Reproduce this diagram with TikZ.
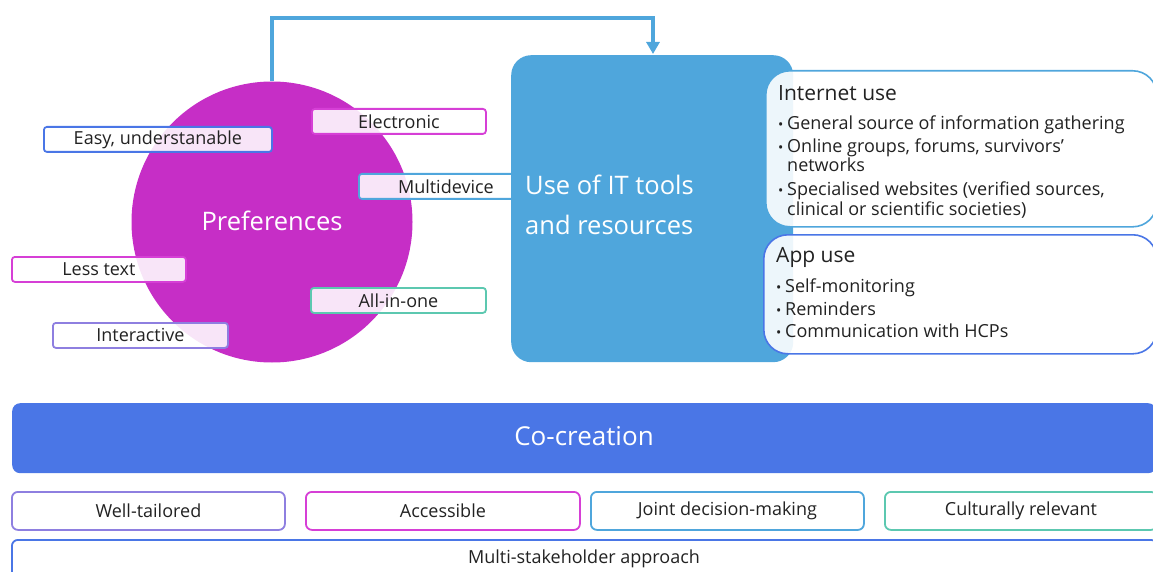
\documentclass[tikz,border=0pt]{standalone}
\usepackage{fontspec}
\setmainfont{Open Sans}
\usetikzlibrary{arrows.meta,calc}
\definecolor{magentaC}{HTML}{C62EC6}
\definecolor{itblue}{HTML}{4FA6DC}
\definecolor{royal}{HTML}{4A76E6}
\definecolor{tagmag}{HTML}{D63FD6}
\definecolor{tagteal}{HTML}{5CC8B0}
\definecolor{tagviolet}{HTML}{8E7FE0}
\definecolor{txt}{HTML}{222222}
\tikzset{
  small/.style={font=\fontsize{18}{20}\selectfont},
  big/.style={font=\fontsize{25.5}{28}\selectfont},
  tag/.style={draw=#1, line width=1.8pt, fill=white, fill opacity=0.88, text opacity=1,
    rounded corners=3pt, minimum width=174pt, minimum height=25pt, inner sep=0pt,
    anchor=north west, text=txt, small},
  basebox/.style={draw=#1, line width=1.8pt, fill=white, rounded corners=6pt,
    minimum height=38pt, inner sep=0pt, anchor=north west, text=txt, small},
  infobox/.style={draw=#1, line width=1.6pt, fill=white, fill opacity=0.9,
    rounded corners=24pt, inner sep=0pt, anchor=north west},
  line/.style={anchor=base west, inner sep=0pt, text=txt, small},
  head/.style={anchor=base west, inner sep=0pt, text=txt, font=\fontsize{21}{24}\selectfont},
  dot/.style={anchor=base west, inner sep=0pt, text=txt, font=\fontsize{14}{16}\selectfont},
}
\begin{document}
\begin{tikzpicture}[x=1pt,y=-1pt]
\useasboundingbox (0,0) rectangle (1153,572);

% preferences circle
\node[circle, fill=magentaC, minimum size=281pt, inner sep=0pt] (pref) at (272,222) {};
\node[text=white, big, anchor=base, inner sep=0pt] (preft) at (272,230) {Preferences};

% preference tags
\node[tag=royal, minimum width=228pt] (easy) at (43,126) {Easy, understanable};
\node[tag=tagmag] (elec) at (311,108) {Electronic};
\node[tag=itblue] (multi) at (358,173) {Multidevice};
\node[tag=tagmag] (less) at (11,256) {Less text};
\node[tag=tagteal, minimum width=175pt] (allin) at (310,287) {All-in-one};
\node[tag=tagviolet, minimum width=175pt] (inter) at (52,322) {Interactive};

% IT tools box
\node[fill=itblue, rounded corners=20pt, minimum width=282pt, minimum height=307pt,
  anchor=north west, inner sep=0pt] (it) at (511,55) {};
\node[text=white, big, anchor=base west, inner sep=0pt] (it1) at (525,194) {Use of IT tools};
\node[text=white, big, anchor=base west, inner sep=0pt] (it2) at (525,234) {and resources};

% connector from preferences to IT tools
\draw[itblue, line width=3.6pt, -{Triangle[length=12pt,width=13pt]}]
  (pref.north) |- (272,18) -| (653,54) coordinate (ittop);

% internet use
\node[infobox=itblue, minimum width=391pt, minimum height=156pt] (inet) at (765,70) {};
\node[head] (inett) at (778,101) {Internet use};
\node[dot] (b1) at (778,130) {•};
\node[line] (l1) at (787,130) {General source of information gathering};
\node[dot] (b2) at (778,153) {•};
\node[line] (l2) at (787,153) {Online groups, forums, survivors'};
\node[line] (l2b) at (787,172) {networks};
\node[dot] (b3) at (778,196) {•};
\node[line] (l3) at (787,196) {Specialised websites (verified sources,};
\node[line] (l3b) at (787,215) {clinical or scientific societies)};

% app use
\node[infobox=royal, minimum width=393pt, minimum height=119pt] (app) at (763,234) {};
\node[head] (appt) at (776,262) {App use};
\node[dot] (a1) at (776,292) {•};
\node[line] (m1) at (785,292) {Self-monitoring};
\node[dot] (a2) at (776,315) {•};
\node[line] (m2) at (785,315) {Reminders};
\node[dot] (a3) at (776,337) {•};
\node[line] (m3) at (785,337) {Communication with HCPs};

% co-creation bar
\node[fill=royal, rounded corners=8pt, minimum width=1144pt, minimum height=70pt,
  anchor=north west, inner sep=0pt] (co) at (12,403) {};
\node[text=white, font=\fontsize{26}{28}\selectfont, anchor=base, inner sep=0pt] (cot) at (584,445) {Co-creation};

% principles
\node[basebox=tagviolet, minimum width=273pt] (well) at (11,491) {Well-tailored};
\node[basebox=tagmag, minimum width=274pt] (acc) at (305,491) {Accessible};
\node[basebox=itblue, minimum width=273pt] (joint) at (590,491) {Joint decision-making};
\node[basebox=tagteal, minimum width=272pt] (cult) at (884,491) {Culturally relevant};
\node[draw=royal, line width=1.8pt, fill=white, rounded corners=6pt, minimum width=1145pt,
  minimum height=50pt, inner sep=0pt, anchor=north west] (multist) at (11,539) {};
\node[anchor=base, inner sep=0pt, text=txt, small] (multit) at (584,563) {Multi-stakeholder approach};
\end{tikzpicture}
\end{document}
